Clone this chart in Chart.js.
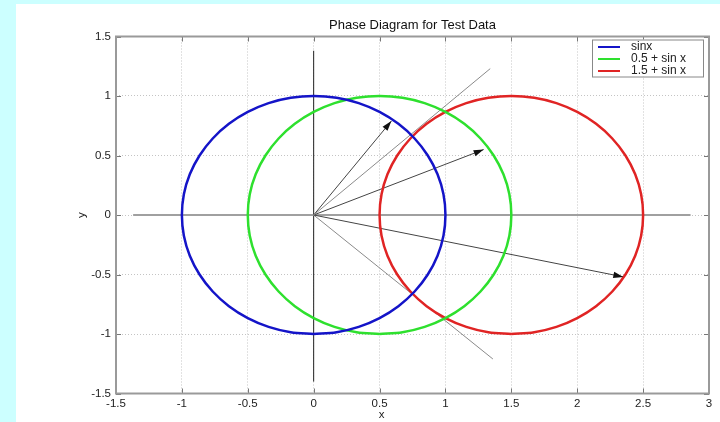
<!DOCTYPE html>
<html>
<head>
<meta charset="utf-8">
<script src="https://cdn.jsdelivr.net/npm/chart.js@4/dist/chart.umd.min.js"></script>
<style>
html, body { margin: 0; padding: 0; background: #ccffff; width: 720px; height: 422px; overflow: hidden; }
#wrap { position: absolute; left: 16px; top: 4px; width: 704px; height: 418px; background: #fff; }
</style>
</head>
<body>
<div id="wrap"><canvas id="myChart"></canvas></div>
<script>
// circle points (from the bottom, counter-clockwise, every 10 deg)
const circleY = [-1, -0.985, -0.94, -0.866, -0.766, -0.643, -0.5, -0.342, -0.174, 0,
                 0.174, 0.342, 0.5, 0.643, 0.766, 0.866, 0.94, 0.985, 1,
                 0.985, 0.94, 0.866, 0.766, 0.643, 0.5, 0.342, 0.174, 0,
                 -0.174, -0.342, -0.5, -0.643, -0.766, -0.866, -0.94, -0.985, -1];
const sinxX = [0, 0.174, 0.342, 0.5, 0.643, 0.766, 0.866, 0.94, 0.985, 1,
               0.985, 0.94, 0.866, 0.766, 0.643, 0.5, 0.342, 0.174, 0,
               -0.174, -0.342, -0.5, -0.643, -0.766, -0.866, -0.94, -0.985, -1,
               -0.985, -0.94, -0.866, -0.766, -0.643, -0.5, -0.342, -0.174, 0];
const halfSinX = [0.5, 0.674, 0.842, 1, 1.143, 1.266, 1.366, 1.44, 1.485, 1.5,
                  1.485, 1.44, 1.366, 1.266, 1.143, 1, 0.842, 0.674, 0.5,
                  0.326, 0.158, 0, -0.143, -0.266, -0.366, -0.44, -0.485, -0.5,
                  -0.485, -0.44, -0.366, -0.266, -0.143, 0, 0.158, 0.326, 0.5];
const oneHalfSinX = [1.5, 1.674, 1.842, 2, 2.143, 2.266, 2.366, 2.44, 2.485, 2.5,
                     2.485, 2.44, 2.366, 2.266, 2.143, 2, 1.842, 1.674, 1.5,
                     1.326, 1.158, 1, 0.857, 0.734, 0.634, 0.56, 0.515, 0.5,
                     0.515, 0.56, 0.634, 0.734, 0.857, 1, 1.158, 1.326, 1.5];
const seriesLabels = ['sinx', '0.5 + sin x', '1.5 + sin x'];
const seriesColors = ['#1414c8', '#2ee02e', '#e02424'];

// rays from the origin
const rayEndX = [1.34, 0.59, 1.29, 2.35, 1.36];
const rayEndY = [1.23, 0.79, 0.55, -0.52, -1.21];
const rayArrow = [false, true, true, true, false];

// reference axes drawn through the origin
const hLineX = [-1.37, 2.86];
const vLineY = [-1.4, 1.38];

const titleText = 'Phase Diagram for Test Data';
const xTitle = 'x';
const yTitle = 'y';
const font = '"Liberation Sans", Arial, Helvetica, sans-serif';

function pts(xs, ys) {
    return xs.map((v, i) => ({ x: v, y: ys[i] }));
}

const datasets = [];
[sinxX, halfSinX, oneHalfSinX].forEach((xs, i) => {
    datasets.push({
        label: seriesLabels[i],
        data: pts(xs, circleY),
        borderColor: seriesColors[i],
        borderWidth: 2.5,
        tension: 0.33,
        order: 0
    });
});
datasets.push({
    label: 'h',
    data: pts(hLineX, [0, 0]),
    borderColor: '#a0a0a0',
    borderWidth: 2,
    order: 2
});
datasets.push({
    label: 'v',
    data: pts([0, 0], vLineY),
    borderColor: '#222',
    borderWidth: 1,
    order: 2
});
rayEndX.forEach((ex, i) => {
    datasets.push({
        label: 'ray' + i,
        data: [{ x: 0, y: 0 }, { x: ex, y: rayEndY[i] }],
        borderColor: rayArrow[i] ? '#444' : '#8a8a8a',
        borderWidth: 1,
        arrow: rayArrow[i],
        order: 1
    });
});

const phasePlugin = {
    id: 'phase',
    afterDatasetsDraw(chart) {
        const ctx = chart.ctx;
        chart.data.datasets.forEach((ds, i) => {
            if (!ds.arrow) return;
            const p = chart.getDatasetMeta(i).data;
            const a = p[0], b = p[p.length - 1];
            const ang = Math.atan2(b.y - a.y, b.x - a.x);
            ctx.save();
            ctx.translate(b.x, b.y);
            ctx.rotate(ang);
            ctx.beginPath();
            ctx.moveTo(0, 0);
            ctx.lineTo(-10, -3.2);
            ctx.lineTo(-10, 3.2);
            ctx.closePath();
            ctx.fillStyle = '#111';
            ctx.fill();
            ctx.restore();
        });
    },
    afterDraw(chart) {
        const { ctx, chartArea: ca, scales } = chart;
        const xs = scales.x, ys = scales.y;
        ctx.save();
        // tick marks pointing inwards
        ctx.strokeStyle = '#777';
        ctx.lineWidth = 1;
        xs.ticks.forEach(t => {
            const px = Math.round(xs.getPixelForValue(t.value)) + 0.5;
            ctx.beginPath();
            ctx.moveTo(px, ca.top); ctx.lineTo(px, ca.top + 5);
            ctx.moveTo(px, ca.bottom); ctx.lineTo(px, ca.bottom - 5);
            ctx.stroke();
        });
        ys.ticks.forEach(t => {
            const py = Math.round(ys.getPixelForValue(t.value)) + 0.5;
            ctx.beginPath();
            ctx.moveTo(ca.left, py); ctx.lineTo(ca.left + 5, py);
            ctx.moveTo(ca.right, py); ctx.lineTo(ca.right - 5, py);
            ctx.stroke();
        });
        // frame
        ctx.strokeStyle = '#9a9a9a';
        ctx.lineWidth = 2;
        ctx.strokeRect(ca.left, ca.top, ca.right - ca.left, ca.bottom - ca.top);

        // axis titles
        ctx.fillStyle = '#222';
        ctx.font = '11.5px ' + font;
        ctx.textAlign = 'center';
        ctx.textBaseline = 'middle';
        ctx.fillText(xTitle, (ca.left + ca.right) / 2 - 31, ca.bottom + 21);
        ctx.save();
        ctx.translate(ca.left - 34, (ca.top + ca.bottom) / 2);
        ctx.rotate(-Math.PI / 2);
        ctx.fillText(yTitle, 0, 0);
        ctx.restore();

        // legend box
        const lx = ca.right - 117, ly = ca.top + 3, lw = 111, lh = 37;
        ctx.fillStyle = '#fff';
        ctx.fillRect(lx, ly, lw, lh);
        ctx.strokeStyle = '#888';
        ctx.lineWidth = 1;
        ctx.strokeRect(lx + 0.5, ly + 0.5, lw, lh);
        ctx.textAlign = 'left';
        ctx.font = '12px ' + font;
        seriesLabels.forEach((lab, i) => {
            const yy = ly + 7.5 + i * 12;
            ctx.strokeStyle = seriesColors[i];
            ctx.lineWidth = 2;
            ctx.beginPath();
            ctx.moveTo(lx + 6, yy); ctx.lineTo(lx + 28, yy);
            ctx.stroke();
            ctx.fillStyle = '#222';
            ctx.fillText(lab, lx + 39, yy);
        });
        ctx.restore();
    }
};

const tickFmt = v => String(Number(v.toFixed(2)));

const ctx = document.getElementById('myChart').getContext('2d');
const chart = new Chart(ctx, {
    type: 'line',
    data: { datasets: datasets },
    options: {
        responsive: true,
        maintainAspectRatio: false,
        animation: false,
        elements: { point: { radius: 0, hoverRadius: 0 }, line: { fill: false, capBezierPoints: false } },
        layout: { padding: { left: 0, right: 11, top: 0, bottom: 0 } },
        plugins: {
            legend: { display: false },
            tooltip: { enabled: false },
            title: {
                display: true,
                text: titleText,
                fullSize: false,
                color: '#111',
                font: { family: font, size: 13, weight: 'normal' },
                padding: { top: 13.2, bottom: 3.7 }
            }
        },
        scales: {
            x: {
                type: 'linear',
                min: -1.5,
                max: 3,
                ticks: { stepSize: 0.5, color: '#222', padding: 3, font: { family: font, size: 11.5 }, maxRotation: 0, callback: tickFmt },
                grid: { color: '#c4c4c4', lineWidth: 1, drawTicks: false },
                border: { display: false, dash: [1, 2] },
                afterFit(s) { s.height = 28.5; }
            },
            y: {
                type: 'linear',
                min: -1.5,
                max: 1.5,
                ticks: { stepSize: 0.5, color: '#222', padding: 5, font: { family: font, size: 11.5 }, callback: tickFmt },
                grid: { color: '#c4c4c4', lineWidth: 1, drawTicks: false },
                border: { display: false, dash: [1, 2] },
                afterFit(s) { s.width = 100; }
            }
        }
    },
    plugins: [phasePlugin]
});
</script>
</body>
</html>
